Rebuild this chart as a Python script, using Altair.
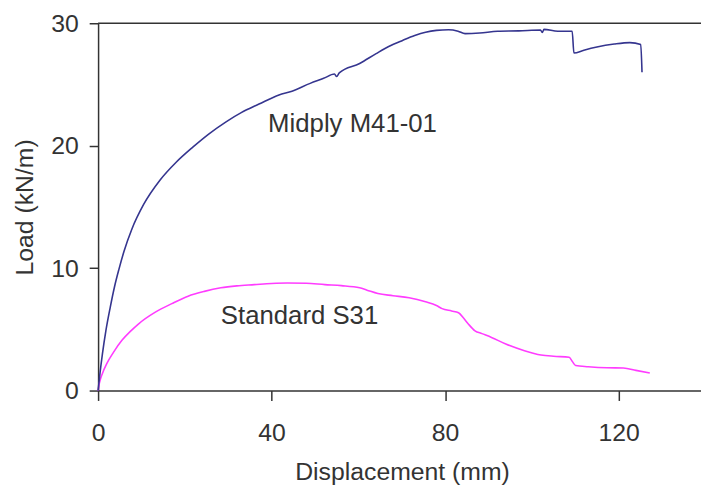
import altair as alt
import pandas as pd

# Midply M41-01 (displacement mm, load kN/m)
mid_x = [0, 0.4, 1.0, 1.8, 2.8, 3.8, 4.8, 6.0, 7.8, 10.5, 14.3, 18.0, 21.9, 25.5, 29.5, 33.0,
         37.1, 41.7, 44.7, 48.9, 52.0, 54.5, 55.0, 55.6, 60.3, 64.1, 67.0, 70.2, 73.0, 75.5,
         78.0, 80.8, 83.0, 84.6, 88.0, 92.1, 97.0, 102.0, 102.4, 102.8, 106.0, 109.3, 109.7,
         112.0, 115.0, 119.0, 122.6, 125.1, 125.4]
mid_y = [0, 1.3, 3.0, 4.9, 6.8, 8.5, 9.9, 11.4, 13.2, 15.2, 17.2, 18.65, 19.9, 20.95, 21.95, 22.7,
         23.4, 24.15, 24.45, 25.09, 25.5, 25.85, 25.65, 25.95, 26.71, 27.52, 28.1, 28.6, 29.0, 29.27,
         29.42, 29.47, 29.35, 29.15, 29.2, 29.35, 29.38, 29.45, 29.25, 29.5, 29.35, 29.35, 27.57,
         27.8, 28.06, 28.3, 28.42, 28.26, 26.0]

# Standard S31
std_x = [0, 0.3, 1.0, 2.0, 3.5, 5.5, 7.5, 9.35, 13.2, 17.0, 20.75, 24.5, 28.3, 32.0, 36.0, 40.0,
         43.6, 48.0, 52.3, 56.1, 60.3, 62.0, 64.5, 68.0, 71.7, 75.5, 78.0, 79.3, 81.5, 83.1,
         84.3, 85.4, 86.9, 88.5, 90.7, 94.0, 98.3, 102.1, 105.0, 108.6, 109.3, 110.1, 113.0,
         117.3, 121.1, 124.0, 127.2]
std_y = [0, 0.6, 1.4, 2.2, 3.1, 4.1, 4.85, 5.45, 6.4, 7.1, 7.71, 8.1, 8.39, 8.55, 8.65, 8.75,
         8.79, 8.76, 8.65, 8.57, 8.39, 8.2, 7.92, 7.75, 7.58, 7.25, 6.95, 6.69, 6.5, 6.36,
         5.9, 5.42, 4.88, 4.65, 4.34, 3.8, 3.26, 2.91, 2.8, 2.72, 2.4, 2.05, 1.95,
         1.86, 1.84, 1.65, 1.43]

label_text = ["Midply M41-01", "Standard S31"]
label_x = [39.2, 28.3]
label_y = [21.1, 5.4]

x_ticks = [0, 40, 80, 120]
y_ticks = [0, 10, 20, 30]

FONT = "Liberation Sans"

mid = pd.DataFrame({"x": mid_x, "y": mid_y, "i": range(len(mid_x))})
std = pd.DataFrame({"x": std_x, "y": std_y, "i": range(len(std_x))})
labels = pd.DataFrame({"t": label_text, "x": label_x, "y": label_y})

xs = alt.Scale(domain=[0, 139], nice=False, zero=False)
ys = alt.Scale(domain=[0, 30], nice=False)

xax = alt.Axis(values=x_ticks, title="Displacement (mm)", grid=False, tickSize=10,
               labelPadding=40, labelBaseline="alphabetic", labelFontSize=25,
               titleFontSize=25, titleFontWeight="normal", titleX=307, titleY=90,
               titleBaseline="alphabetic", titleAlign="center", labelFlush=False)
yax = alt.Axis(values=y_ticks, title="Load (kN/m)", grid=False, tickSize=9,
               labelPadding=11, labelFontSize=25, titleFontSize=25,
               titleFontWeight="normal", titleAngle=270, titleX=-66, titleY=185.5,
               titleBaseline="alphabetic", titleAlign="center", labelFlush=False)

base_mid = alt.Chart(mid).mark_line(color="#35358f", strokeWidth=1.6, interpolate="monotone").encode(
    x=alt.X("x:Q", scale=xs, axis=xax),
    y=alt.Y("y:Q", scale=ys, axis=yax),
    order="i:Q",
)
base_std = alt.Chart(std).mark_line(color="#ff3cff", strokeWidth=1.6, interpolate="monotone").encode(
    x=alt.X("x:Q", scale=xs),
    y=alt.Y("y:Q", scale=ys),
    order="i:Q",
)
top_rule = alt.Chart(pd.DataFrame({"y": [30]})).mark_rule(color="#333333", strokeWidth=1.5).encode(
    y=alt.Y("y:Q", scale=ys),
)
txt = alt.Chart(labels).mark_text(align="left", baseline="alphabetic", fontSize=26,
                                   font=FONT, color="#333333").encode(
    x=alt.X("x:Q", scale=xs),
    y=alt.Y("y:Q", scale=ys),
    text="t:N",
)

chart = alt.layer(top_rule, base_std, base_mid, txt).properties(
    width=609, height=371,
    autosize=alt.AutoSizeParams(type="none"),
    padding={"left": 91, "top": 13, "right": 0, "bottom": 94},
).configure_view(stroke=None).configure_axis(
    domainColor="#333333", domainWidth=1.5, tickColor="#333333", tickWidth=1.5,
    labelColor="#333333", titleColor="#333333", labelFont=FONT, titleFont=FONT,
)

chart.save("out.html", embed_options={"renderer": "svg", "actions": False})
